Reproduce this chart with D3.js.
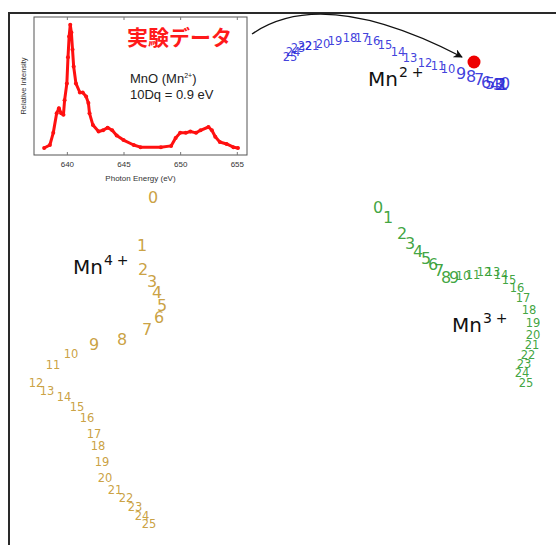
<!DOCTYPE html>
<html>
<head>
<meta charset="utf-8">
<script src="https://cdn.jsdelivr.net/npm/d3@7"></script>
<style>
  body { margin: 0; background: #fff; }
  svg { display: block; }
</style>
</head>
<body>
<div id="chart"></div>
<script>
// embedding coordinates of each spectrum (index 0..25)
const mn4X = [14.4, 13.3, 13.4, 14.3, 14.8, 15.3, 15.0, 13.8, 11.3, 8.5, 6.2, 4.4, 2.7, 3.8, 5.5, 6.8, 7.8, 8.5, 8.9, 9.3, 9.6, 10.6, 11.7, 12.6, 13.3, 14.0];
const mn4Y = [39.6, 34.8, 32.4, 31.2, 30.1, 28.8, 27.6, 26.4, 25.4, 24.9, 23.9, 22.8, 21.0, 20.2, 19.6, 18.6, 17.5, 15.9, 14.7, 13.1, 11.5, 10.3, 9.5, 8.6, 7.7, 6.9];
const mn3X = [36.9, 37.9, 39.3, 40.1, 40.9, 41.7, 42.4, 43.0, 43.7, 44.5, 45.4, 46.4, 47.5, 48.4, 49.2, 50.0, 50.8, 51.4, 52.0, 52.4, 52.4, 52.3, 51.9, 51.5, 51.3, 51.7];
const mn3Y = [38.6, 37.6, 36.0, 35.0, 34.2, 33.5, 32.9, 32.3, 31.6, 31.6, 31.7, 31.8, 32.1, 32.1, 31.8, 31.3, 30.5, 29.5, 28.3, 27.0, 25.8, 24.8, 23.8, 22.9, 22.0, 21.0];
const mn2X = [49.6, 49.4, 49.2, 48.9, 48.6, 48.1, 47.7, 47.0, 46.2, 45.2, 43.9, 42.9, 41.6, 40.1, 38.9, 37.6, 36.4, 35.3, 34.1, 32.6, 31.4, 30.3, 29.6, 28.9, 28.4, 28.1];
const mn2Y = [51.0, 50.9, 50.9, 50.9, 50.9, 51.0, 51.1, 51.4, 51.7, 52.0, 52.4, 52.7, 53.0, 53.5, 54.1, 54.8, 55.2, 55.5, 55.5, 55.2, 54.9, 54.7, 54.7, 54.5, 54.1, 53.6];

// experimental point (MnO)
const expX = [46.5];
const expY = [53.1];

// ion group labels
const ionNames = ['4', '3', '2'];
const ionLabelX = [6.4, 44.3, 35.9];
const ionLabelY = [31.9, 26.1, 50.7];

// inset spectrum: MnO L-edge
const energy = [638.0, 638.5, 638.8, 639.1, 639.3, 639.5, 639.7, 639.8, 640.0, 640.1, 640.2, 640.3, 640.4, 640.5, 640.6, 640.8, 641.15, 641.4, 641.7, 641.9, 642.0, 642.3, 642.8, 643.2, 643.6, 644.0, 644.4, 645.0, 645.9, 646.5, 648.3, 649.2, 649.6, 650.0, 650.5, 650.9, 651.4, 651.8, 652.5, 652.8, 653.1, 653.5, 654.1, 654.7, 655.1];
const intensity = [0.054, 0.077, 0.17, 0.32, 0.36, 0.32, 0.31, 0.42, 0.55, 0.75, 0.91, 1.0, 0.94, 0.81, 0.68, 0.55, 0.48, 0.48, 0.45, 0.40, 0.32, 0.23, 0.18, 0.19, 0.21, 0.19, 0.15, 0.115, 0.077, 0.06, 0.06, 0.07, 0.13, 0.17, 0.17, 0.18, 0.17, 0.19, 0.215, 0.19, 0.14, 0.10, 0.085, 0.06, 0.054];
const energyTicks = [640, 645, 650, 655];

const width = 556, height = 545;

const svg = d3.select('#chart').append('svg')
  .attr('width', width)
  .attr('height', height);

svg.append('defs').append('marker')
  .attr('id', 'head')
  .attr('viewBox', '0 0 10 10')
  .attr('refX', 9).attr('refY', 5)
  .attr('markerWidth', 9).attr('markerHeight', 9)
  .attr('markerUnits', 'userSpaceOnUse')
  .attr('orient', 'auto')
  .append('path')
  .attr('d', 'M0,0 L10,5 L0,10 L3,5 Z')
  .attr('fill', '#111');

// main scales (frame runs off the picture at right and bottom)
const x = d3.scaleLinear().domain([0, 58]).range([9, 589]);
const y = d3.scaleLinear().domain([0, 58]).range([593, 13]);

svg.append('rect')
  .attr('x', x(0)).attr('y', y(58))
  .attr('width', x(58) - x(0)).attr('height', y(0) - y(58))
  .attr('fill', 'none')
  .attr('stroke', '#2a2a2a')
  .attr('stroke-width', 2);

const groups = [
  { xs: mn4X, ys: mn4Y, color: '#c4962c' },
  { xs: mn3X, ys: mn3Y, color: '#2a9a2a' },
  { xs: mn2X, ys: mn2Y, color: '#2a2ad8' }
];

groups.forEach(gr => {
  svg.append('g').selectAll('text')
    .data(gr.xs.map((v, i) => ({ i, x: v, y: gr.ys[i] })))
    .enter()
    .append('text')
    .attr('x', d => x(d.x))
    .attr('y', d => y(d.y))
    .attr('text-anchor', 'middle')
    .attr('dominant-baseline', 'central')
    .attr('font-family', 'DejaVu Sans, sans-serif')
    .attr('font-size', d => d.i < 10 ? 16 : 11.5)
    .attr('fill', gr.color)
    .attr('fill-opacity', 0.9)
    .text(d => d.i);
});

// ion labels Mn^n+
ionNames.forEach((n, k) => {
  const t = svg.append('text')
    .attr('x', x(ionLabelX[k]))
    .attr('y', y(ionLabelY[k]))
    .attr('font-family', 'DejaVu Sans, sans-serif')
    .attr('font-size', 20)
    .attr('fill', '#111');
  t.append('tspan').text('Mn');
  t.append('tspan').attr('dy', -9).attr('dx', 1).attr('font-size', 14).text(n);
  t.append('tspan').attr('dx', 4).attr('font-size', 14).text('+');
});

// experimental point
svg.append('circle')
  .attr('cx', x(expX[0]))
  .attr('cy', y(expY[0]))
  .attr('r', 6.5)
  .attr('fill', '#ee0000');

// curved arrow from inset to experimental point
const p0 = [252, 34];
const p1 = [x(expX[0]) - 12, y(expY[0]) - 5];
const arc = d3.path();
arc.moveTo(p0[0], p0[1]);
arc.quadraticCurveTo(323, -15, p1[0], p1[1]);
svg.append('path')
  .attr('d', arc.toString())
  .attr('fill', 'none')
  .attr('stroke', '#111')
  .attr('stroke-width', 1.3)
  .attr('marker-end', 'url(#head)');

// ---- inset spectrum ----
const ix = d3.scaleLinear().domain([637.1, 655.9]).range([34, 247]);
const iy = d3.scaleLinear().domain([0, 1.06]).range([155, 17]);

const inset = svg.append('g');

inset.append('rect')
  .attr('x', 34).attr('y', 17)
  .attr('width', 213).attr('height', 138)
  .attr('fill', '#fff')
  .attr('stroke', '#555')
  .attr('stroke-width', 1);

const bottomAxis = inset.append('g')
  .attr('transform', 'translate(0,155)')
  .call(d3.axisBottom(ix).tickValues(energyTicks).tickSizeInner(-3).tickSizeOuter(0).tickPadding(6));
const topAxis = inset.append('g')
  .attr('transform', 'translate(0,17)')
  .call(d3.axisTop(ix).tickValues(energyTicks).tickSizeInner(-3).tickSizeOuter(0).tickFormat(''));
[bottomAxis, topAxis].forEach(a => {
  a.select('.domain').remove();
  a.selectAll('line').attr('stroke', '#777');
  a.selectAll('text')
    .attr('font-family', 'Liberation Sans, Arial, sans-serif')
    .attr('font-size', 8)
    .attr('fill', '#333');
});

inset.append('text')
  .attr('x', (34 + 247) / 2).attr('y', 181)
  .attr('text-anchor', 'middle')
  .attr('font-family', 'Liberation Sans, Arial, sans-serif')
  .attr('font-size', 8)
  .attr('fill', '#333')
  .text('Photon Energy (eV)');

inset.append('text')
  .attr('transform', 'translate(26,86) rotate(-90)')
  .attr('text-anchor', 'middle')
  .attr('font-family', 'Liberation Sans, Arial, sans-serif')
  .attr('font-size', 7.5)
  .attr('fill', '#333')
  .text('Relative Intensity');

const spec = energy.map((e, i) => [e, intensity[i]]);
inset.append('path')
  .datum(spec)
  .attr('fill', 'none')
  .attr('stroke', '#ff1010')
  .attr('stroke-width', 3)
  .attr('stroke-linejoin', 'round')
  .attr('stroke-linecap', 'round')
  .attr('d', d3.line().x(d => ix(d[0])).y(d => iy(d[1])));
inset.append('g').selectAll('circle')
  .data(spec)
  .enter()
  .append('circle')
  .attr('cx', d => ix(d[0]))
  .attr('cy', d => iy(d[1]))
  .attr('r', 2)
  .attr('fill', '#ff1010');

inset.append('text')
  .attr('x', 127).attr('y', 45)
  .attr('font-family', 'Noto Sans CJK JP, sans-serif')
  .attr('font-weight', 'bold')
  .attr('font-size', 21)
  .attr('fill', '#ff1a1a')
  .text('実験データ');

const mno = inset.append('text')
  .attr('x', 130).attr('y', 83)
  .attr('font-family', 'Liberation Sans, Arial, sans-serif')
  .attr('font-size', 13)
  .attr('fill', '#222');
mno.append('tspan').text('MnO (Mn');
mno.append('tspan').attr('dy', -5).attr('font-size', 7).text('2+');
mno.append('tspan').attr('dy', 5).text(')');

inset.append('text')
  .attr('x', 130).attr('y', 99)
  .attr('font-family', 'Liberation Sans, Arial, sans-serif')
  .attr('font-size', 13)
  .attr('fill', '#222')
  .text('10Dq = 0.9 eV');
</script>
</body>
</html>
